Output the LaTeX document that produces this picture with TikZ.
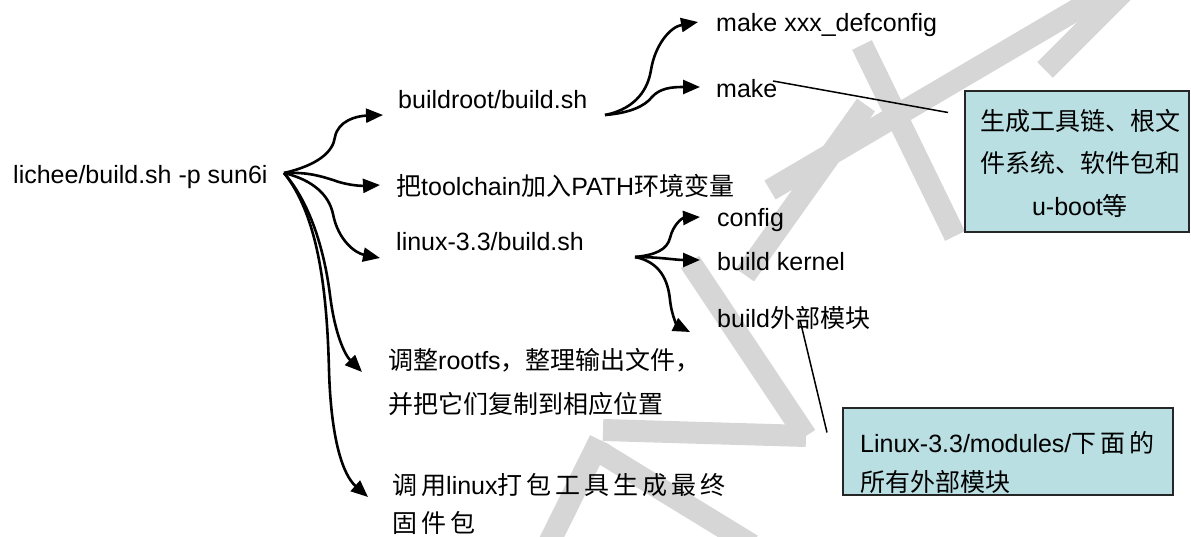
\documentclass[tikz,border=0pt]{standalone}
\usepackage{fontspec}
\setmainfont{Liberation Sans}
\newfontfamily\cjkfont{Noto Sans CJK SC}
\newfontfamily\cjkwide[LetterSpace=16]{Noto Sans CJK SC}
\newcommand\zhtxt[1]{{\cjkfont #1}}
\newcommand\zhwide[1]{{\cjkwide #1}}
\usetikzlibrary{arrows.meta}
\definecolor{boxfill}{HTML}{B9DFE2}
\definecolor{wmark}{HTML}{D6D6D6}
\tikzset{
  txt/.style={anchor=west, inner sep=0pt, font=\fontsize{25}{30}\selectfont},
  arr/.style={line width=2.6pt, -{Triangle[length=17pt,width=14pt]}},
  callout/.style={line width=1.5pt},
  notebox/.style={draw=black!85, line width=2pt, fill=boxfill, inner sep=0pt},
  wband/.style={draw=wmark, line width=22pt, line cap=butt},
}
\begin{document}
\begin{tikzpicture}[x=1pt,y=-1pt]
\useasboundingbox (0,0) rectangle (1191,537);
% faint watermark strokes
\begin{scope}
\clip (0,0) rectangle (1191,537);
\draw[wband] (690,262) -- (806,436);
\draw[wband] (603,430) -- (806,436);
\draw[wband] (600,452) -- (752,545);
\draw[wband] (548,545) -- (600,440);
\draw[wband] (745,275) -- (866,105);
\draw[wband] (770,190) -- (1110,-10);
\draw[wband] (862,45) -- (955,236);
\draw[wband] (1045,70) -- (1125,-10);
\end{scope}
% text nodes
\node[txt] (root) at (13,177) {lichee/build.sh -p sun6i};
\node[txt] (br) at (398,100) {buildroot/build.sh};
\node[txt] (tc) at (396,186) {\zhtxt{把}toolchain\zhtxt{加入}PATH\zhtxt{环境变量}};
\node[txt] (lx) at (396,242) {linux-3.3/build.sh};
\node[txt, align=left, font=\fontsize{25}{44}\selectfont] (rf) at (388,382) {\zhtxt{调整}rootfs\zhtxt{，整理输出文件，}\\\zhtxt{并把它们复制到相应位置}};
\node[txt, align=left, font=\fontsize{25}{38}\selectfont] (pk) at (392,504) {\zhwide{调用}linux\zhwide{打包工具生成最终}\\\zhwide{固件包}};
\node[txt] (dc) at (716,25) {make xxx\_defconfig};
\node[txt] (mk) at (716,89) {make};
\node[txt] (cf) at (717,220) {config};
\node[txt] (bk) at (717,262) {build kernel};
\node[txt] (bm) at (717,318) {build\zhtxt{外部模块}};
% note boxes
\node[notebox, minimum width=224pt, minimum height=141pt] (b1) at (1077,161.5) {};
\node[inner sep=0pt, align=center, font=\fontsize{25}{42.5}\selectfont] (b1t) at (1080,163) {\zhtxt{生成工具链、根文}\\\zhtxt{件系统、软件包和}\\u-boot\zhtxt{等}};
\node[notebox, minimum width=330pt, minimum height=87pt] (b2) at (1008,451.5) {};
\node[txt, align=left, font=\fontsize{25}{39}\selectfont] (b2t) at (860,462) {Linux-3.3/modules/\zhwide{下面的}\\\zhtxt{所有外部模块}};
% fan origins
\coordinate (f0) at (284,173);
\coordinate (f1) at (605,115);
\coordinate (f2) at (635,257);
% main fan
\draw[arr] (f0) .. controls (318,165) and (333,152) .. (335,137) .. controls (338,121) and (356,116) .. (383,115);
\draw[arr] (f0) .. controls (308,172) and (320,176) .. (333,180) .. controls (346,185) and (360,186) .. (380,185);
\draw[arr] (f0) .. controls (313,180) and (329,195) .. (333,214) .. controls (338,240) and (355,253) .. (380,258);
\draw[arr] (f0) .. controls (312,205) and (325,255) .. (330,295) .. controls (335,335) and (345,355) .. (362,372);
\draw[arr] (f0) .. controls (318,215) and (327,290) .. (329,370) .. controls (331,440) and (343,475) .. (368,497);
% buildroot fan
\draw[arr] (f1) .. controls (630,110) and (647,95) .. (651,70) .. controls (655,45) and (670,27) .. (698,22);
\draw[arr] (f1) .. controls (630,113) and (645,106) .. (652,97) .. controls (660,88) and (672,87) .. (700,87);
% linux fan
\draw[arr] (f2) .. controls (655,255) and (667,250) .. (670,238) .. controls (673,225) and (682,218) .. (700,217);
\draw[arr] (f2) .. controls (660,257) and (675,260) .. (700,260);
\draw[arr] (f2) .. controls (660,262) and (668,280) .. (670,300) .. controls (672,318) and (678,326) .. (690,332);
% callouts
\draw[callout] ([shift={(57,-8)}]mk.west) -- ([shift={(-16,-49)}]b1.west);
\draw[callout] ([shift={(83,2)}]bm.west) -- ([shift={(-15,-19)}]b2.west);
\end{tikzpicture}
\end{document}
